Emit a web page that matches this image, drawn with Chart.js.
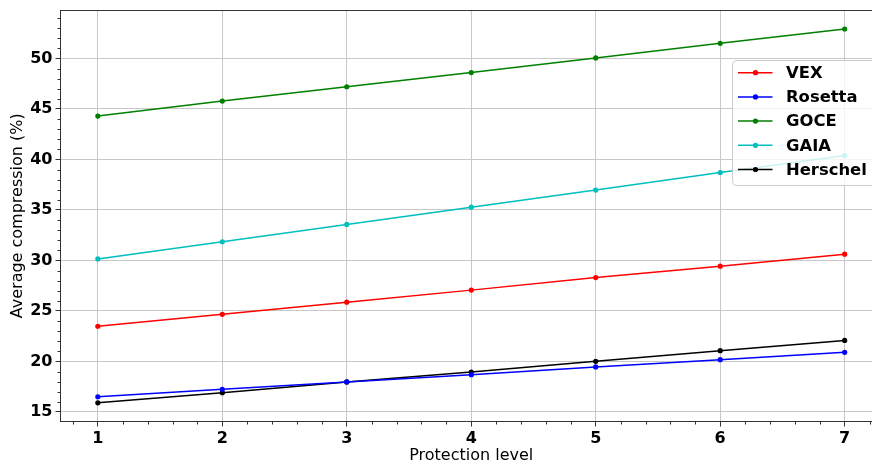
<!DOCTYPE html>
<html>
<head>
<meta charset="utf-8">
<script src="https://cdn.jsdelivr.net/npm/chart.js@4/dist/chart.umd.min.js"></script>
<style>
  html, body { margin: 0; padding: 0; background: #fff; overflow: hidden; }
  #wrap { width: 872px; height: 465px; position: relative; }
</style>
</head>
<body>
<div id="wrap"><canvas id="c" width="872" height="465"></canvas></div>
<script>
const levels = [1, 2, 3, 4, 5, 6, 7];
const vex      = [23.48, 24.66, 25.87, 27.06, 28.3, 29.43, 30.62];
const rosetta  = [16.5, 17.24, 17.97, 18.68, 19.45, 20.17, 20.9];
const goce     = [44.3, 45.78, 47.2, 48.6, 50.05, 51.5, 52.92];
const gaia     = [30.15, 31.85, 33.57, 35.27, 36.97, 38.71, 40.39];
const herschel = [15.9, 16.9, 17.97, 18.95, 20.01, 21.06, 22.08];
const seriesNames = ['VEX', 'Rosetta', 'GOCE', 'GAIA', 'Herschel'];
const seriesColors = ['#ff0000', '#0000ff', '#008000', '#00bfbf', '#000000'];
const xTicks = [1, 2, 3, 4, 5, 6, 7];
const yTicks = [15, 20, 25, 30, 35, 40, 45, 50];

const FONT = "'DejaVu Sans', sans-serif";
const allSeries = [vex, rosetta, goce, gaia, herschel];

const datasets = allSeries.map((vals, i) => ({
  label: seriesNames[i],
  data: levels.map((x, j) => ({ x: x, y: vals[j] })),
  borderColor: seriesColors[i],
  backgroundColor: seriesColors[i],
  borderWidth: 1.5,
  pointRadius: 2.6,
  pointBorderWidth: 0,
  pointHoverRadius: 2.6,
  tension: 0,
  fill: false
}));

const zeroPad = () => ({ left: 0, top: 0, right: 0, bottom: 0 });

// The original figure is cropped on the right: its axes box extends past the canvas edge.
const AXES_RIGHT = 882;

const mplDecor = {
  id: 'mplDecor',
  afterLayout(chart) {
    const xs = chart.scales.x;
    chart.chartArea.right = AXES_RIGHT;
    chart.chartArea.width = AXES_RIGHT - chart.chartArea.left;
    xs.right = AXES_RIGHT;
    xs.width = AXES_RIGHT - xs.left;
    xs.configure();
  },
  afterDraw(chart) {
    const ctx = chart.ctx;
    const a = chart.chartArea;
    const xs = chart.scales.x, ys = chart.scales.y;
    ctx.save();
    // top spine
    ctx.strokeStyle = '#333333';
    ctx.lineWidth = 1;
    ctx.beginPath();
    ctx.moveTo(a.left, Math.round(a.top) + 0.5);
    ctx.lineTo(a.right, Math.round(a.top) + 0.5);
    ctx.stroke();
    // minor ticks
    ctx.beginPath();
    for (let k = 4; k <= 36; k++) {
      const v = k / 5;
      if (k % 5 === 0) continue;
      if (v < xs.min || v > xs.max) continue;
      const px = Math.round(xs.getPixelForValue(v)) + 0.5;
      ctx.moveTo(px, a.bottom);
      ctx.lineTo(px, a.bottom + 3);
    }
    for (let v = 14; v <= 55; v++) {
      if (v % 5 === 0) continue;
      if (v < ys.min || v > ys.max) continue;
      const py = Math.round(ys.getPixelForValue(v)) + 0.5;
      ctx.moveTo(a.left, py);
      ctx.lineTo(a.left - 3, py);
    }
    ctx.stroke();
    // legend
    const bx = 732, by = 60, bw = 200, bh = 125, r = 4;
    ctx.fillStyle = 'rgba(255,255,255,0.8)';
    ctx.strokeStyle = '#cccccc';
    ctx.lineWidth = 1;
    ctx.beginPath();
    ctx.moveTo(bx + r, by + 0.5);
    ctx.lineTo(bx + bw, by + 0.5);
    ctx.lineTo(bx + bw, by + bh + 0.5);
    ctx.lineTo(bx + r, by + bh + 0.5);
    ctx.arcTo(bx + 0.5, by + bh + 0.5, bx + 0.5, by + bh - r, r);
    ctx.lineTo(bx + 0.5, by + r);
    ctx.arcTo(bx + 0.5, by + 0.5, bx + r, by + 0.5, r);
    ctx.closePath();
    ctx.fill();
    ctx.stroke();
    ctx.font = "bold 16.4px " + FONT;
    ctx.textBaseline = 'middle';
    ctx.textAlign = 'left';
    chart.data.datasets.forEach((ds, i) => {
      const y = 72.7 + i * 24.2;
      ctx.strokeStyle = ds.borderColor;
      ctx.lineWidth = 1.5;
      ctx.beginPath();
      ctx.moveTo(738, y);
      ctx.lineTo(772.5, y);
      ctx.stroke();
      ctx.fillStyle = ds.borderColor;
      ctx.beginPath();
      ctx.arc(755.5, y, 2.6, 0, Math.PI * 2);
      ctx.fill();
      ctx.fillStyle = '#000000';
      ctx.fillText(ds.label, 786, y + 1);
    });
    ctx.restore();
  }
};

new Chart(document.getElementById('c'), {
  type: 'line',
  data: { datasets: datasets },
  plugins: [mplDecor],
  options: {
    responsive: false,
    animation: false,
    events: [],
    layout: { padding: { top: 10, right: 0, left: 0, bottom: 0 } },
    plugins: { legend: { display: false }, tooltip: { enabled: false } },
    scales: {
      x: {
        type: 'linear',
        min: 0.7,
        max: 7.3,
        afterBuildTicks: s => { s.ticks = xTicks.map(v => ({ value: v })); },
        afterFit: s => { s.height = 43.5; s.paddingLeft = 0; s.paddingRight = 0; s.getPadding = zeroPad; },
        grid: { color: '#c8c8c8', lineWidth: 1, tickColor: '#333333', tickLength: 5 },
        border: { display: true, color: '#333333', width: 1 },
        ticks: { color: '#000000', font: { family: FONT, size: 16, weight: 'bold' }, padding: 3, maxRotation: 0 },
        title: { display: true, text: 'Protection level', color: '#000000', font: { family: FONT, size: 16 }, padding: { top: 0, bottom: 0 } }
      },
      y: {
        type: 'linear',
        min: 14.05,
        max: 54.8,
        afterBuildTicks: s => { s.ticks = yTicks.map(v => ({ value: v })); },
        afterFit: s => { s.width = 60.5; s.paddingTop = 0; s.paddingBottom = 0; s.getPadding = zeroPad; },
        grid: { color: '#c8c8c8', lineWidth: 1, tickColor: '#333333', tickLength: 5 },
        border: { display: true, color: '#333333', width: 1 },
        ticks: { color: '#000000', font: { family: FONT, size: 16, weight: 'bold' }, padding: 3 },
        title: { display: true, text: 'Average compression (%)', color: '#000000', font: { family: FONT, size: 16 }, padding: { top: 8, bottom: 0 } }
      }
    }
  }
});
</script>
</body>
</html>
